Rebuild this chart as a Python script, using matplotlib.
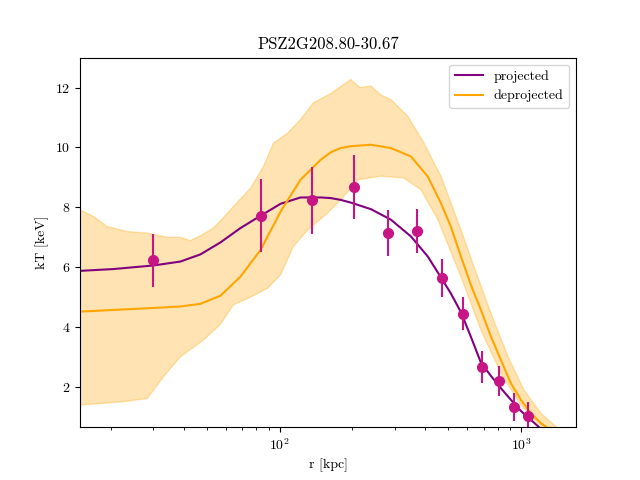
import numpy as np
from matplotlib import pyplot as plt

plt.rcParams['font.family'] = 'serif'
plt.rcParams['font.serif'] = ['cmr10', 'DejaVu Serif']
plt.rcParams['mathtext.fontset'] = 'cm'
plt.rcParams['axes.formatter.use_mathtext'] = True

# measured points
r_data = [30.0, 83.4, 135.8, 202.7, 280.5, 370, 470, 574, 689, 811, 935, 1069]
kT_data = [6.25, 7.72, 8.25, 8.69, 7.15, 7.22, 5.65, 4.44, 2.67, 2.20, 1.33, 1.03]
kT_lo = [5.35, 6.52, 7.12, 7.62, 6.38, 6.48, 5.01, 3.91, 2.13, 1.70, 0.86, 0.56]
kT_hi = [7.12, 8.96, 9.36, 9.76, 7.92, 7.95, 6.28, 5.01, 3.20, 2.70, 1.80, 1.50]

# projected model
r_proj = [14.9, 20.5, 30.0, 38.8, 47.0, 56.9, 68.9, 83.4, 101, 122, 148, 163, 179,
          197, 239, 289, 350, 411, 466, 512, 564, 620, 682, 751, 826, 909, 1000,
          1211, 1400]
kT_proj = [5.88, 5.94, 6.06, 6.19, 6.43, 6.83, 7.31, 7.72, 8.12, 8.33, 8.33, 8.31, 8.25,
           8.16, 7.94, 7.59, 7.03, 6.36, 5.66, 5.13, 4.50, 3.68, 2.82, 2.37, 1.96, 1.57,
           1.20, 0.60, 0.15]

# deprojected model
r_deproj = [14.9, 28.3, 38.8, 47.0, 56.9, 68.9, 83.4, 101, 122, 148, 163, 179, 197,
            239, 289, 350, 411, 466, 512, 564, 620, 682, 751, 826, 909, 1000, 1100,
            1211, 1332, 1500]
kT_deproj = [4.52, 4.63, 4.69, 4.78, 5.05, 5.69, 6.58, 7.86, 8.92, 9.59, 9.84, 9.98,
             10.04, 10.09, 9.98, 9.70, 9.03, 8.14, 7.36, 6.36, 5.41, 4.58, 3.68, 2.90,
             2.12, 1.57, 1.12, 0.79, 0.56, 0.3]

# deprojected uncertainty band
r_up = [14.9, 16.9, 19.3, 23.4, 28.3, 34.3, 38.8, 42.7, 47.0, 53.2, 56.9, 64.4, 75.8,
        85.8, 94.4, 108, 122, 138, 163, 197, 215, 239, 263, 289, 340, 396, 466, 564,
        638, 751, 884, 1029, 1211, 1400, 1600]
kT_up = [7.92, 7.70, 7.36, 7.19, 7.14, 7.00, 7.00, 6.89, 7.05, 7.31, 7.55, 8.03, 8.64,
         9.37, 10.15, 10.48, 10.93, 11.49, 11.80, 12.27, 12.00, 12.05, 11.75, 11.60,
         11.04, 10.15, 9.04, 7.25, 6.03, 4.46, 3.01, 1.90, 1.12, 0.67, 0.40]
r_lo = [14.9, 22.5, 28.3, 33.0, 38.8, 48.4, 56.9, 64.4, 75.8, 89.2, 101, 114, 131, 158,
        179, 211, 263, 327, 385, 452, 564, 682, 826, 1000, 1176, 1350]
kT_lo_band = [1.40, 1.51, 1.62, 2.34, 3.01, 3.57, 4.10, 4.75, 5.00, 5.30, 5.75, 6.69,
              7.25, 7.81, 8.25, 8.92, 9.04, 8.98, 8.59, 7.60, 5.69, 3.91, 2.46, 1.40,
              0.79, 0.40]

fig, ax = plt.subplots(figsize=(6.4, 4.8), dpi=100)

ax.fill(np.concatenate([r_up, r_lo[::-1]]), np.concatenate([kT_up, kT_lo_band[::-1]]),
        color='orange', alpha=0.3, lw=1)
ax.plot(r_proj, kT_proj, color='purple', label='projected')
ax.plot(r_deproj, kT_deproj, color='orange', label='deprojected')
err = [np.array(kT_data) - np.array(kT_lo), np.array(kT_hi) - np.array(kT_data)]
ax.errorbar(r_data, kT_data, yerr=err, fmt='o', color='mediumvioletred', ms=7)

ax.set_xscale('log')
ax.set_xlim(14.9, 1690)
ax.set_ylim(0.66, 13.0)
ax.set_xlabel('r [kpc]')
ax.set_ylabel('kT [keV]')
ax.set_title('PSZ2G208.80-30.67')
ax.legend(loc='upper right')

plt.savefig('out.png')
